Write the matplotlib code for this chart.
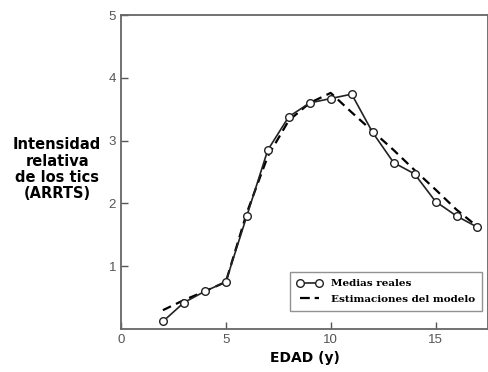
import matplotlib
matplotlib.use("Agg")
import matplotlib.pyplot as plt
from matplotlib.lines import Line2D

ages = [2, 3, 4, 5, 6, 7, 8, 9, 10, 11, 12, 13, 14, 15, 16, 17]
real_means = [0.12, 0.42, 0.60, 0.75, 1.80, 2.85, 3.38, 3.60, 3.67, 3.74, 3.13, 2.65, 2.47, 2.03, 1.80, 1.62]
model_ages = [2, 3, 4, 5, 6, 7, 8, 9, 10, 11, 12, 13, 14, 15, 16, 17]
model_est = [0.30, 0.46, 0.60, 0.75, 1.85, 2.75, 3.32, 3.60, 3.76, 3.45, 3.15, 2.85, 2.53, 2.22, 1.90, 1.63]

xticks = [0, 5, 10, 15]
yticks = [1, 2, 3, 4, 5]

fig = plt.figure(figsize=(4.89, 3.72), dpi=100)
ax = fig.add_axes([0.2474, 0.1156, 0.7505, 0.844])

ax.plot(model_ages, model_est, color="black", lw=1.6, ls=(0, (4, 2.5)), zorder=2)
real_line, = ax.plot(ages, real_means, color="#222222", lw=1.2, marker="o", markersize=5.5,
                     markerfacecolor="white", markeredgecolor="#222222", markeredgewidth=1.0,
                     zorder=3)

ax.set_xlim(0, 17.5)
ax.set_ylim(0, 5)
ax.set_xticks(xticks)
ax.set_yticks(yticks)
ax.tick_params(direction="in", length=5, width=1, colors="#555555",
               labelsize=9.5, labelcolor="#555555")
for lab in ax.get_xticklabels() + ax.get_yticklabels():
    lab.set_family("Liberation Sans")
for s in ax.spines.values():
    s.set_color("#666666")
    s.set_linewidth(1.3)

ax.set_xlabel("EDAD (y)", fontsize=10, fontweight="bold", labelpad=4)
fig.text(0.117, 0.545, "Intensidad\nrelativa\nde los tics\n(ARRTS)", ha="center", va="center",
         fontsize=10.5, fontweight="bold", linespacing=1.1)

dash_proxy = Line2D([], [], color="black", lw=1.6, ls=(0, (4.4, 2.2)))
leg = ax.legend([real_line, dash_proxy], ["Medias reales", "Estimaciones del modelo"],
                loc="lower right", bbox_to_anchor=(0.998, 0.04),
                numpoints=2, handlelength=2.4, frameon=True, fancybox=False,
                prop={"weight": "bold", "size": 7.5, "family": "DejaVu Serif"},
                borderpad=0.7, labelspacing=0.6)
leg.get_frame().set_edgecolor("#777777")
leg.get_frame().set_linewidth(1.0)

fig.savefig("out.png", dpi=100)
